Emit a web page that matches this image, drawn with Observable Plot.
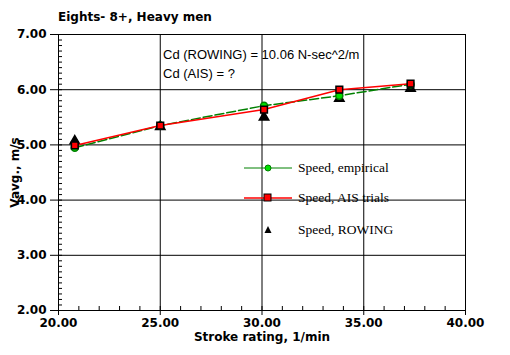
<!DOCTYPE html>
<html>
<head>
<meta charset="utf-8">
<script src="https://cdn.jsdelivr.net/npm/d3@7"></script>
<script src="https://cdn.jsdelivr.net/npm/@observablehq/plot@0.6"></script>
<style>
  body { margin: 0; background: #fff; }
  #wrap { position: relative; width: 510px; height: 355px; }
  .title { position: absolute; left: 58px; top: 10px; font: bold 12px "DejaVu Sans", sans-serif; }
  .note { position: absolute; left: 163px; font: 13px "Liberation Sans", Arial, sans-serif; }
  .leg { position: absolute; left: 244px; font: 13.5px "Liberation Serif", "Times New Roman", serif; display: flex; align-items: center; }
  .leg svg { margin-right: 6px; }
</style>
</head>
<body>
<div id="wrap"></div>
<script>
const titleText = "Eights- 8+, Heavy men";
const notes = ["Cd (ROWING) = 10.06 N-sec^2/m", "Cd (AIS) = ?"];
const xLabel = "Stroke rating, 1/min";
const yLabel = "Vavg., m/s";
const seriesNames = ["Speed, empirical", "Speed, AIS trials", "Speed, ROWING"];

const strokeRate    = [20.8, 25.0, 30.1, 33.8, 37.3];
const speedEmpirical = [4.95, 5.35, 5.71, 5.89, 6.10];
const speedAIS       = [4.99, 5.35, 5.64, 6.00, 6.11];
const speedROWING    = [5.07, 5.33, 5.50, 5.84, 6.02];

const xMajor = [20, 25, 30, 35, 40];
const yMajor = [2, 3, 4, 5, 6, 7];
const xMinor = d3.range(20, 40.01, 1);
const yMinor = d3.range(20, 70.01, 1).map(d => d / 10);

const emp = strokeRate.map((x, i) => ({x, y: speedEmpirical[i]}));
const ais = strokeRate.map((x, i) => ({x, y: speedAIS[i]}));
const row = strokeRate.map((x, i) => ({x, y: speedROWING[i]}));

const green = "#008000", greenFill = "#00e000", red = "#ff0000";

const chart = Plot.plot({
  width: 510, height: 355,
  marginLeft: 58, marginRight: 45, marginTop: 34, marginBottom: 45,
  style: {fontFamily: "DejaVu Sans, sans-serif", fontSize: "11px", fontWeight: "bold", color: "#000", background: "#fff"},
  x: {domain: [20, 40]},
  y: {domain: [2, 7]},
  marks: [
    Plot.gridX(xMajor, {stroke: "#000", strokeOpacity: 1}),
    Plot.gridY(yMajor, {stroke: "#000", strokeOpacity: 1}),
    Plot.frame({stroke: "#000"}),
    Plot.axisX(xMinor, {tickSize: -4, tickFormat: () => "", label: null, stroke: "#000"}),
    Plot.axisY(yMinor, {tickSize: -4, tickFormat: () => "", label: null, stroke: "#000"}),
    Plot.axisX(xMajor, {tickSize: 5, tickPadding: 3, tickFormat: d => d.toFixed(2), label: xLabel, labelAnchor: "center", labelArrow: "none", labelOffset: 30, fontSize: 12}),
    Plot.axisY(yMajor, {tickSize: 8, tickPadding: 4, tickFormat: d => d.toFixed(2), label: yLabel, labelAnchor: "center", labelArrow: "none", labelOffset: 48, fontSize: 12}),
    Plot.dot(row, {x: "x", y: "y", symbol: "triangle", r: 3.5, fill: "#000", stroke: "#000"}),
    Plot.line(emp, {x: "x", y: "y", stroke: green, strokeWidth: 1.5, strokeDasharray: "9,3"}),
    Plot.dot(emp, {x: "x", y: "y", symbol: "circle", r: 3.5, fill: greenFill, stroke: green}),
    Plot.line(ais, {x: "x", y: "y", stroke: red, strokeWidth: 1.5}),
    Plot.dot(ais, {x: "x", y: "y", symbol: "square", r: 3.8, fill: red, stroke: "#000"})
  ]
});
const wrap = document.getElementById("wrap");
wrap.appendChild(chart);

function add(html) { const d = document.createElement("div"); d.innerHTML = html; wrap.appendChild(d.firstChild); }
add(`<div class="title">${titleText}</div>`);
add(`<div class="note" style="top:47px">${notes[0]}</div>`);
add(`<div class="note" style="top:66px">${notes[1]}</div>`);
const sw = [
  `<svg width="48" height="10"><line x1="0" y1="5" x2="48" y2="5" stroke="${green}" stroke-width="1"/><circle cx="24" cy="5" r="3" fill="${greenFill}" stroke="${green}"/></svg>`,
  `<svg width="48" height="10"><line x1="0" y1="5" x2="48" y2="5" stroke="${red}" stroke-width="1.5"/><rect x="20" y="1" width="7" height="7" fill="${red}" stroke="#000"/></svg>`,
  `<svg width="48" height="10"><path d="M24,1 L27.5,8 L20.5,8 Z" fill="#000"/></svg>`
];
const legTop = [160, 190, 222];
seriesNames.forEach((n, i) => add(`<div class="leg" style="top:${legTop[i]}px">${sw[i]}<span>${n}</span></div>`));
</script>
</body>
</html>
